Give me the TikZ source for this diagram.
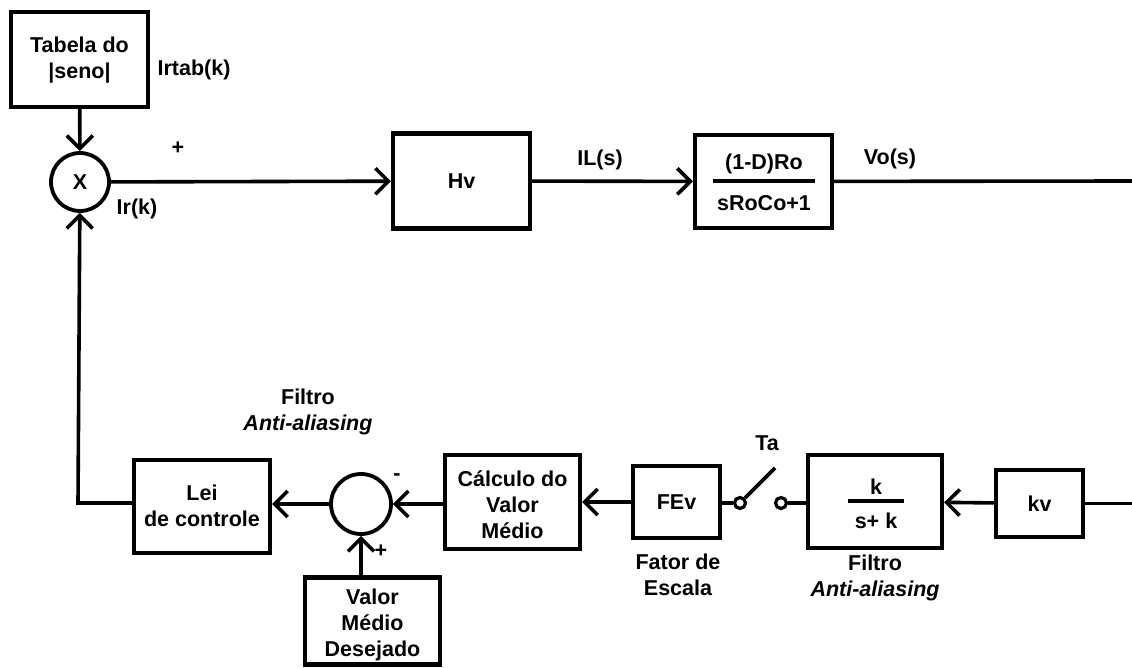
\documentclass[tikz,border=0pt]{standalone}
\usepackage{fontspec}
\setmainfont{Liberation Sans}
\usetikzlibrary{arrows.meta}
\begin{document}
\begin{tikzpicture}[x=1pt,y=-1pt,
  line width=3.6pt,
  every node/.style={font=\fontsize{21.5}{26}\selectfont\bfseries, inner sep=0pt, align=center},
  block/.style={draw, line width=4.2pt},
  junction/.style={draw, circle, line width=3.8pt},
  contact/.style={draw, circle, line width=3.2pt, minimum size=11pt},
  arr/.style={-{Straight Barb[length=13pt,width=26pt]}}
]
\useasboundingbox (0,0) rectangle (1132,668);
% top row
\node[block, minimum width=137pt, minimum height=95pt] (tab) at (79.5,59.5) {};
\node (tabt) at (79.5,60) {\fontsize{21.5}{30}\selectfont Tabela do\\|seno|};
\node (irtab) at (194,70) {Irtab(k)};
\node[junction, minimum size=58pt] (mult) at (80,182) {X};
\node (plus1) at (178,148) {+};
\node (irk) at (137,209) {Ir(k)};
\node[block, minimum width=137pt, minimum height=95pt] (hv) at (461.5,181) {Hv};
\node (ils) at (600,160) {IL(s)};
\node[block, minimum width=137pt, minimum height=93pt] (tf) at (763.5,181.5) {};
\node (tfn) at (764,164) {(1-D)Ro};
\node (tfd) at (764,203) {sRoCo+1};
\coordinate (tfb1) at (713,181);
\coordinate (tfb2) at (815,181);
\node (vos) at (890,159) {Vo(s)};
\coordinate (rtop) at (1132,181);
% bottom row
\node[block, minimum width=136pt, minimum height=93pt] (lei) at (202,506.5) {};
\node (leit) at (202,506) {\fontsize{21.5}{32}\selectfont Lei\\de controle};
\node[junction, minimum size=60pt] (sum) at (361,504) {};
\node (minus) at (397,477) {-};
\node (plus2) at (381,551) {+};
\node (filt1) at (308,412) {Filtro\\\itshape Anti-aliasing};
\node[block, minimum width=135pt, minimum height=94pt] (calc) at (512.5,502) {};
\node (calct) at (512.5,505) {\fontsize{21.5}{23}\selectfont C\'alculo do\\Valor\\M\'edio};
\node[block, minimum width=135pt, minimum height=87pt] (valor) at (372.5,621) {};
\node (valort) at (372.5,625) {Valor\\M\'edio\\Desejado};
\node[block, minimum width=87pt, minimum height=72pt] (fev) at (676.5,502) {FEv};
\node (fator) at (678,575) {\fontsize{21.5}{30}\selectfont Fator de\\Escala};
\node[contact] (c1) at (740,503) {};
\node[contact] (c2) at (781,503) {};
\coordinate (blade) at (775,468);
\node (ta) at (767,443) {Ta};
\node[block, minimum width=134pt, minimum height=93pt] (filt) at (875,501.5) {};
\node (filtn) at (876,487) {k};
\node (filtd) at (876,521) {s+ k};
\coordinate (fb1) at (848,501);
\coordinate (fb2) at (904,501);
\node (filt2) at (875,578) {Filtro\\\itshape Anti-aliasing};
\node[block, minimum width=87pt, minimum height=67pt] (kv) at (1039.5,503.5) {kv};
\coordinate (rbot) at (1132,503.5);
\coordinate (corner) at (78,503);
% connectors
\draw[arr] (tab) -- (mult);
\draw[arr] (mult) -- (hv);
\draw[arr] (hv) -- (tf);
\draw (tf) -- (rtop);
\draw (tfb1) -- (tfb2);
\draw (fb1) -- (fb2);
\draw (rbot) -- (kv);
\draw[arr] (kv) -- (filt);
\draw (filt.west |- c2) -- (c2);
\draw (c1.north east) -- (blade);
\draw (c1) -- (fev.east |- c1);
\draw[arr] (fev) -- (calc);
\draw[arr] (calc.west |- sum) -- (sum);
\draw[arr] (valor.north -| sum) -- (sum);
\draw[arr] (sum) -- (lei.east |- sum);
\draw[arr] (lei.west |- corner) -- (corner) -- (mult);
\end{tikzpicture}
\end{document}
